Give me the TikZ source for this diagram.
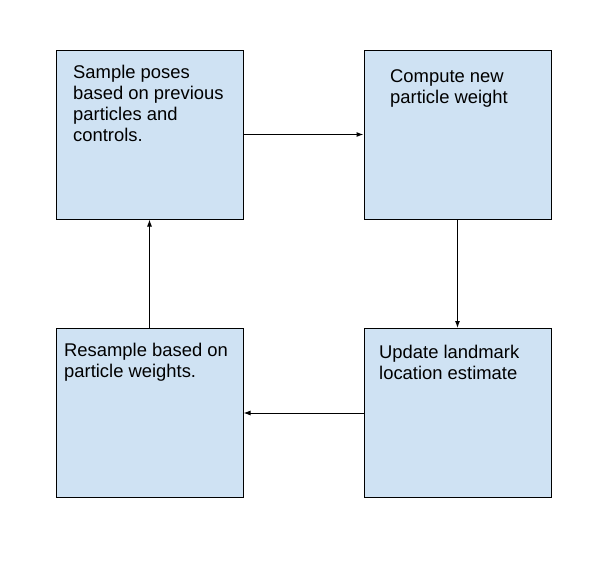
\documentclass[tikz,border=0pt]{standalone}
\usepackage{fontspec}
\setmainfont{Liberation Sans}
\usetikzlibrary{arrows.meta}
\definecolor{boxblue}{HTML}{CFE2F3}
\tikzset{
  stepbox/.style={draw=black, fill=boxblue, line width=1pt, rectangle, inner sep=0pt,
    minimum width=187pt, minimum height=169pt},
  boxtext/.style={anchor=base west, inner sep=0pt, align=left,
    font=\fontsize{18.4}{21.2}\selectfont},
  flow/.style={draw=black, line width=1pt, -{Latex[length=7pt,width=5pt]}}
}
\begin{document}
\begin{tikzpicture}[x=1pt,y=-1pt]
\useasboundingbox (0,0) rectangle (597,565);
\node[stepbox] (sample) at (149.5,134.5) {};
\node[stepbox] (compute) at (457.5,134.5) {};
\node[stepbox] (update) at (457.5,413) {};
\node[stepbox] (resample) at (149.5,413) {};
\node[boxtext] (t1) at (73,141.9) {Sample poses\\based on previous\\particles and\\controls.};
\node[boxtext] (t2) at (390,103.5) {Compute new\\particle weight};
\node[boxtext] (t3) at (379,379.2) {Update landmark\\location estimate};
\node[boxtext] (t4) at (64,377.2) {Resample based on\\particle weights.};
\draw[flow] (sample.east) -- (compute.west);
\draw[flow] (compute.south) -- (update.north);
\draw[flow] (update.west) -- (resample.east);
\draw[flow] (resample.north) -- (sample.south);
\end{tikzpicture}
\end{document}
